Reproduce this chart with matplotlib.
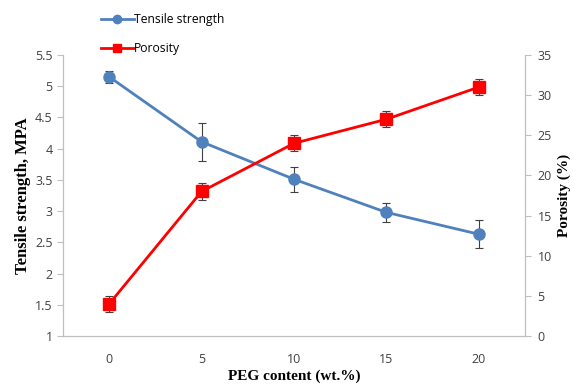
import matplotlib
matplotlib.use("Agg")
import matplotlib.pyplot as plt
from matplotlib.lines import Line2D

categories = ["0", "5", "10", "15", "20"]
tensile = [5.15, 4.11, 3.51, 2.98, 2.63]
tensile_err = [0.10, 0.30, 0.20, 0.15, 0.22]
porosity = [4.0, 18.0, 24.0, 27.0, 31.0]
porosity_err = [1.0, 1.0, 1.0, 1.0, 1.0]

blue = "#4F81BD"
red = "#FF0000"
gray = "#BFBFBF"
tickfont = "Open Sans"

fig = plt.figure(figsize=(5.74, 3.84), dpi=100)
ax = fig.add_axes([63/574, 48/384, 462/574, 281/384])
ax2 = ax.twinx()

x = list(range(len(categories)))
ax.errorbar(x, tensile, yerr=tensile_err, color=blue, lw=2, marker="o", ms=8,
            ecolor="#404040", elinewidth=0.8, capsize=3, capthick=0.8, zorder=3)
ax2.errorbar(x, porosity, yerr=porosity_err, color=red, lw=2, marker="s", ms=8,
             ecolor="#404040", elinewidth=0.8, capsize=3, capthick=0.8, zorder=3)

ax.set_xlim(-0.5, 4.5)
ax.set_ylim(1, 5.5)
ax.set_yticks([1, 1.5, 2, 2.5, 3, 3.5, 4, 4.5, 5, 5.5])
ax.set_yticklabels(["1", "1.5", "2", "2.5", "3", "3.5", "4", "4.5", "5", "5.5"])
ax2.set_ylim(0, 35)
ax2.set_yticks(range(0, 36, 5))
ax.set_xticks(x)
ax.set_xticklabels(categories)

for a in (ax, ax2):
    for s in a.spines.values():
        s.set_color(gray)
    a.spines["top"].set_visible(False)
    a.tick_params(colors=gray, labelcolor="#404040", labelsize=9, length=4)
    for lab in a.get_xticklabels() + a.get_yticklabels():
        lab.set_family(tickfont)
ax.tick_params(axis="x", length=0, pad=12)
ax2.tick_params(axis="y", pad=5)

ax.set_xlabel("PEG content (wt.%)", family="Liberation Serif", weight="bold", fontsize=11, labelpad=3)
ax.set_ylabel("Tensile strength, MPA", family="Liberation Serif", weight="bold", fontsize=12)
ax.yaxis.set_label_coords(-32/462, 0.5)
ax2.set_ylabel("Porosity (%)", family="Liberation Serif", weight="bold", fontsize=11)
ax2.yaxis.set_label_coords(1 + 33/462, 0.5)

handles = [Line2D([], [], color=blue, lw=2, marker="o", ms=6),
           Line2D([], [], color=red, lw=2, marker="s", ms=6)]
fig.legend(handles, ["Tensile strength", "Porosity"], loc="upper left",
           bbox_to_anchor=(90/574, 1 - 2/384), frameon=False,
           prop={"family": tickfont, "size": 8.7}, labelspacing=1.35,
           handlelength=2.7, handletextpad=0.0)

fig.savefig("out.png", dpi=100)
